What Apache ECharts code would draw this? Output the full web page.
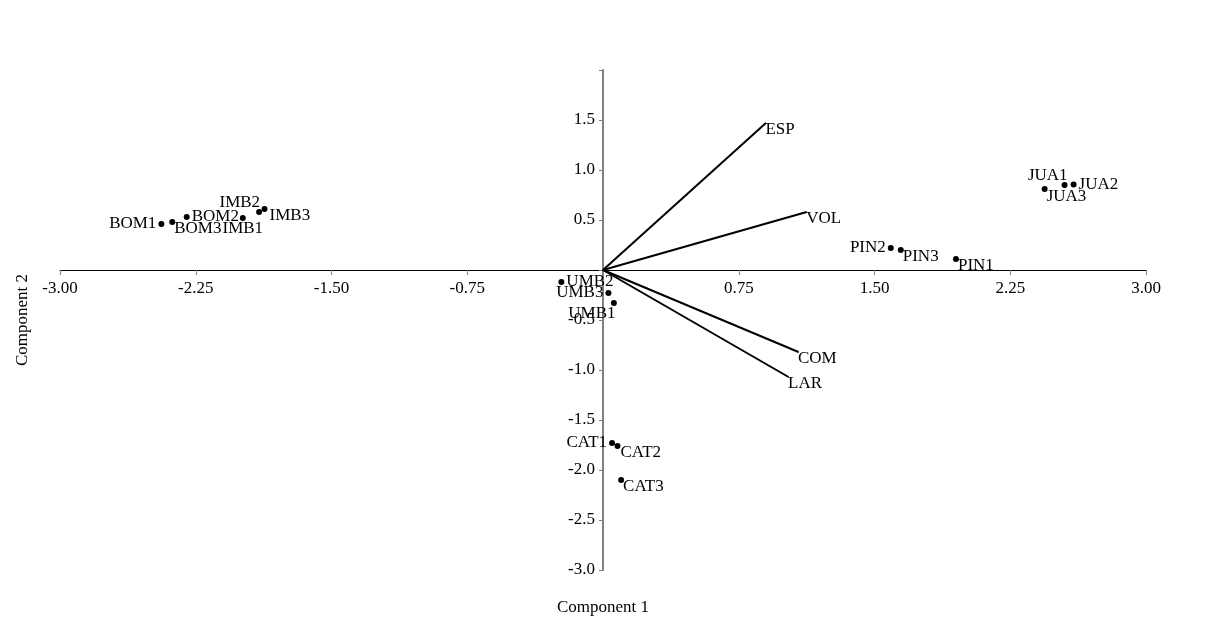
<!DOCTYPE html>
<html>
<head>
<meta charset="utf-8">
<title>Biplot</title>
<script src="https://cdn.jsdelivr.net/npm/echarts@6/dist/echarts.min.js"></script>
<style>
  html, body { margin: 0; padding: 0; background: #fff; }
  #chart { width: 1206px; height: 641px; }
</style>
</head>
<body>
<div id="chart"></div>
<script>
// sample scores (component 1, component 2)
const pointNames = ['BOM1', 'BOM2', 'BOM3', 'IMB1', 'IMB2', 'IMB3',
  'JUA1', 'JUA2', 'JUA3', 'PIN1', 'PIN2', 'PIN3',
  'UMB1', 'UMB2', 'UMB3', 'CAT1', 'CAT2', 'CAT3']
const pointX = [-2.44, -2.30, -2.38, -1.99, -1.90, -1.87,
  2.55, 2.60, 2.44, 1.95, 1.59, 1.645,
  0.06, -0.23, 0.03, 0.05, 0.08, 0.10]
const pointY = [0.46, 0.53, 0.48, 0.52, 0.58, 0.61,
  0.85, 0.855, 0.81, 0.11, 0.22, 0.20,
  -0.33, -0.12, -0.23, -1.73, -1.76, -2.10]

// variable loadings (vectors from origin)
const varNames = ['ESP', 'VOL', 'COM', 'LAR']
const varX = [0.90, 1.125, 1.08, 1.025]
const varY = [1.47, 0.58, -0.82, -1.07]

// axis ranges
const xMin = -3, xMax = 3, xStep = 0.75
const yMin = -3, yMax = 2, yStep = 0.5

const FONT = 'Liberation Serif'

// grid box, and the axes are shifted in to cross at the origin
const grid = {left: 60, right: 60, top: 70, bottom: 71}
const W = 1206, H = 641
const plotW = W - grid.left - grid.right
const plotH = H - grid.top - grid.bottom
const xShift = -plotH * (0 - yMin) / (yMax - yMin)   // bottom axis moved up to y = 0
const yShift = -plotW * (0 - xMin) / (xMax - xMin)   // left axis moved right to x = 0

// where each point label sits relative to its dot
const labelPlace = {
  BOM1: {position: 'left', distance: 2},
  BOM2: {position: 'right', distance: 2},
  BOM3: {position: 'right', distance: 1, offset: [-2, 7]},
  IMB1: {position: 'bottom', distance: -1},
  IMB2: {position: 'left', distance: 0, offset: [4, -9]},
  IMB3: {position: 'right', distance: 2, offset: [0, 7]},
  JUA1: {position: 'left', distance: 0, offset: [6, -9]},
  JUA2: {position: 'right', distance: 2},
  JUA3: {position: 'right', distance: 1, offset: [-2, 8]},
  PIN1: {position: 'right', distance: 1, offset: [-2, 7]},
  PIN2: {position: 'left', distance: 2},
  PIN3: {position: 'right', distance: 1, offset: [-2, 7]},
  UMB1: {position: 'bottom', distance: -1, offset: [-22, 0]},
  UMB2: {position: 'right', distance: 2},
  UMB3: {position: 'left', distance: 2},
  CAT1: {position: 'left', distance: 2},
  CAT2: {position: 'right', distance: 2, offset: [-2, 7]},
  CAT3: {position: 'right', distance: 1, offset: [-2, 7]},
}

const chart = echarts.init(document.getElementById('chart'))

const textStyle = {color: '#000', fontFamily: FONT, fontSize: 17}

const scatterData = pointNames.map((n, i) => ({
  name: n,
  value: [pointX[i], pointY[i]],
  label: Object.assign({show: true, formatter: n}, textStyle, labelPlace[n]),
}))

const vectorSeries = varNames.map((n, i) => ({
  type: 'line',
  name: n,
  silent: true,
  symbol: 'circle',
  symbolSize: 1,
  itemStyle: {color: '#000'},
  lineStyle: {color: '#000', width: 2},
  data: [
    {value: [0, 0], label: {show: false}},
    {
      value: [varX[i], varY[i]],
      label: Object.assign({show: true, formatter: n, position: 'right', distance: 1, offset: [-2, 7]}, textStyle),
    },
  ],
  z: 2,
}))

chart.setOption({
  animation: false,
  backgroundColor: '#fff',
  grid: Object.assign({containLabel: false, outerBoundsMode: 'none'}, grid),
  xAxis: {
    type: 'value',
    position: 'bottom',
    offset: xShift,
    min: xMin, max: xMax, interval: xStep,
    name: 'Component 1',
    nameLocation: 'middle',
    nameGap: 329,
    nameMoveOverlap: false,
    nameTextStyle: textStyle,
    axisLine: {onZero: false, lineStyle: {color: '#000', width: 1}},
    axisTick: {show: true, length: 5, lineStyle: {color: '#808080'}},
    axisLabel: Object.assign({margin: 10, formatter: v => (v === 0 ? '' : v.toFixed(2))}, textStyle),
    splitLine: {show: false},
  },
  yAxis: {
    type: 'value',
    position: 'left',
    offset: yShift,
    min: yMin, max: yMax, interval: yStep,
    name: 'Component 2',
    nameLocation: 'middle',
    nameGap: 572,
    nameMoveOverlap: false,
    nameTextStyle: textStyle,
    axisLine: {onZero: false, lineStyle: {color: '#808080', width: 2}},
    axisTick: {show: true, length: 4, lineStyle: {color: '#808080'}},
    axisLabel: Object.assign({margin: 8, padding: [4, 0, 0, 0],
      formatter: v => (v === 0 || v === yMax ? '' : v.toFixed(1))}, textStyle),
    splitLine: {show: false},
  },
  series: [
    ...vectorSeries,
    {
      type: 'scatter',
      symbol: 'circle',
      symbolSize: 6,
      itemStyle: {color: '#000', opacity: 1},
      data: scatterData,
      z: 3,
    },
  ],
})
</script>
</body>
</html>
